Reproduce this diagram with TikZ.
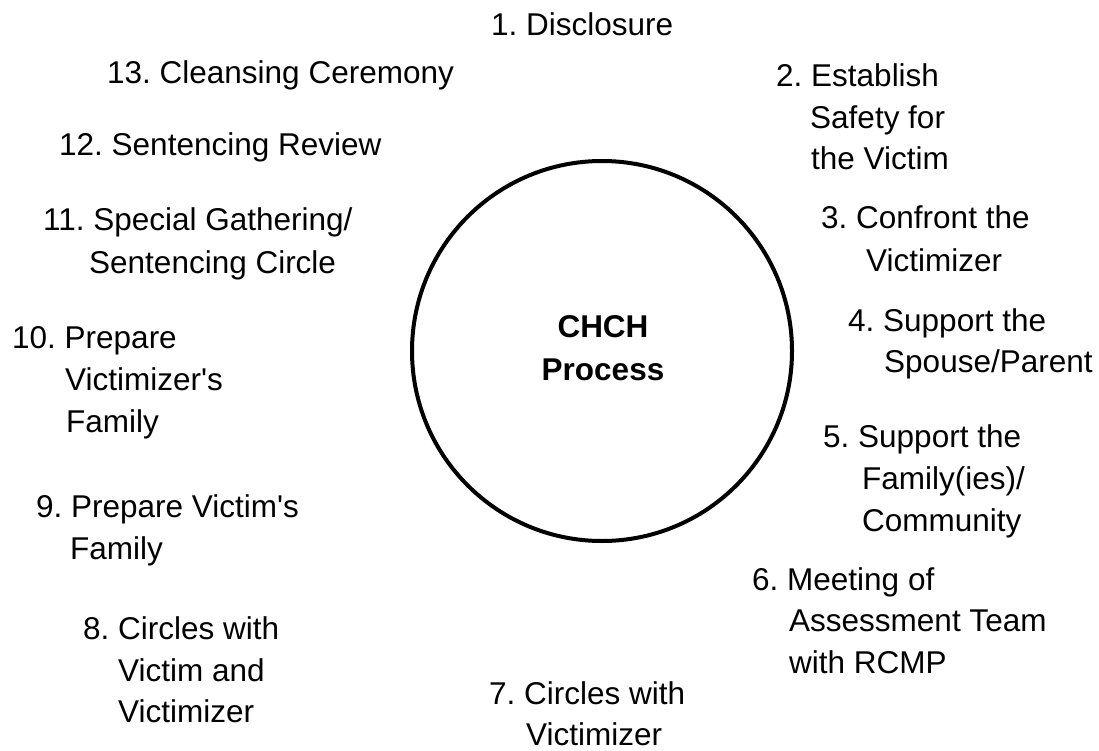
\documentclass[tikz,border=0pt]{standalone}
\usepackage{fontspec}
\setmainfont{Liberation Sans}
\frenchspacing
\begin{document}
\begin{tikzpicture}[x=1pt,y=-1pt,
  lbl/.style={anchor=base west,inner sep=0pt,font=\fontsize{31.5}{38}\selectfont},
  ttl/.style={anchor=base,inner sep=0pt,font=\fontsize{31.5}{38}\selectfont\bfseries},
  ring/.style={circle,draw,line width=4pt,minimum size=380pt,inner sep=0pt}]
\useasboundingbox (0,0) rectangle (1099,751);
\node[ring] (proc) at (602,351) {};
\node[ttl] (title) at (603,337) {CHCH};
\node[ttl] (title2) at (603,380) {Process};
% right side
\node[lbl] (a1) at (491,36) {1. Disclosure};
\node[lbl] (a2) at (776,87) {2. Establish};
\node[lbl] (a2b) at (810,129) {Safety for};
\node[lbl] (a2c) at (811,170) {the Victim};
\node[lbl] (a3) at (821,229) {3. Confront the};
\node[lbl] (a3b) at (866,271) {Victimizer};
\node[lbl] (a4) at (848,331) {4. Support the};
\node[lbl] (a4b) at (884,372) {Spouse/Parent};
\node[lbl] (a5) at (823,447) {5. Support the};
\node[lbl] (a5b) at (862,489) {Family(ies)/};
\node[lbl] (a5c) at (862,531) {Community};
\node[lbl] (a6) at (752,590) {6. Meeting of};
\node[lbl] (a6b) at (789,631) {Assessment Team};
\node[lbl] (a6c) at (789,673) {with RCMP};
\node[lbl] (a7) at (489,704) {7. Circles with};
\node[lbl] (a7b) at (526,745) {Victimizer};
% left side
\node[lbl] (a8) at (83,639) {8. Circles with};
\node[lbl] (a8b) at (118,681) {Victim and};
\node[lbl] (a8c) at (118,722) {Victimizer};
\node[lbl] (a9) at (36,517) {9. Prepare Victim\textquotesingle s};
\node[lbl] (a9b) at (70,559) {Family};
\node[lbl] (a10) at (12,348) {10. Prepare};
\node[lbl] (a10b) at (65,390) {Victimizer\textquotesingle s};
\node[lbl] (a10c) at (66,432) {Family};
\node[lbl] (a11) at (43,231) {11. Special Gathering/};
\node[lbl] (a11b) at (89,273) {Sentencing Circle};
\node[lbl] (a12) at (59,156) {12. Sentencing Review};
\node[lbl] (a13) at (107,84) {13. Cleansing Ceremony};
\end{tikzpicture}
\end{document}
